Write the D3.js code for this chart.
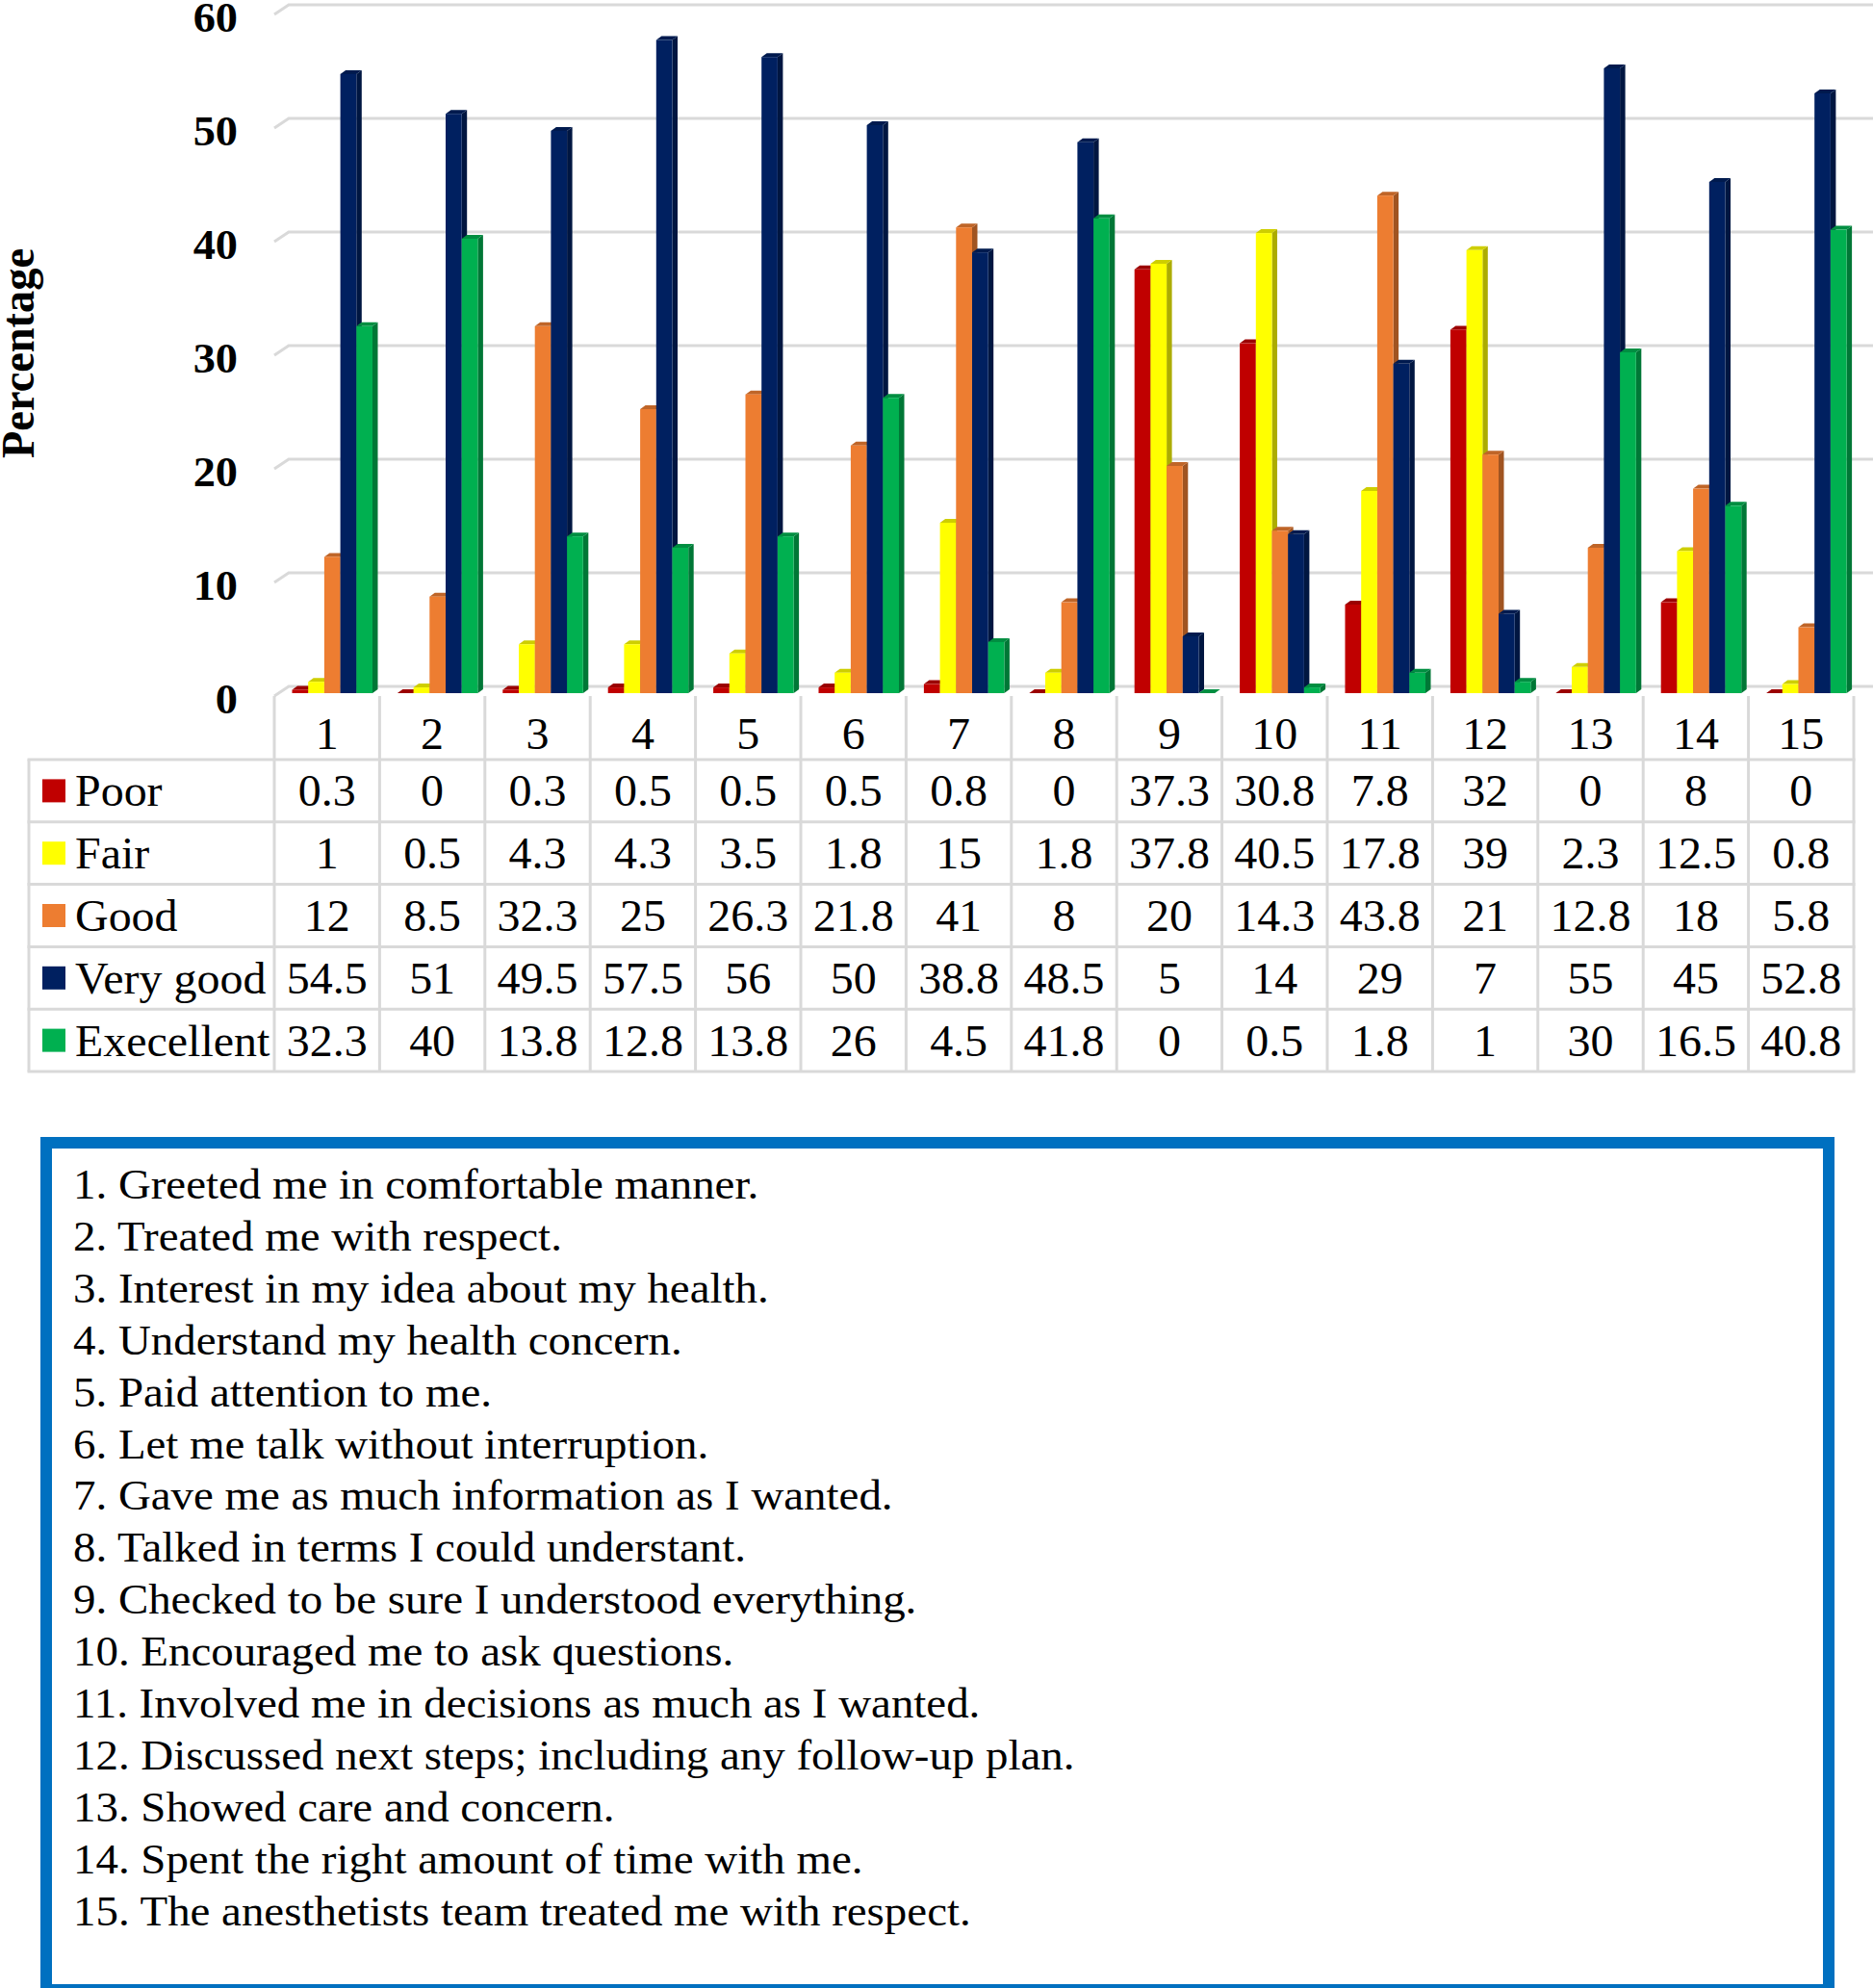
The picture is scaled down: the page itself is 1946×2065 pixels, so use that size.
<!DOCTYPE html>
<html>
<head>
<meta charset="utf-8">
<script src="https://cdn.jsdelivr.net/npm/d3@7"></script>
<style>
  html, body { margin: 0; padding: 0; background: #ffffff; }
  svg { display: block; }
  text { font-family: "Liberation Serif", "Times New Roman", serif; fill: #000; }
</style>
</head>
<body>
<svg id="chart" width="1946" height="2065"></svg>
<script>
// ---------- data ----------
const categories = ["1","2","3","4","5","6","7","8","9","10","11","12","13","14","15"];
const seriesNames = ["Poor", "Fair", "Good", "Very good", "Execellent"];
const poor      = [0.3, 0, 0.3, 0.5, 0.5, 0.5, 0.8, 0, 37.3, 30.8, 7.8, 32, 0, 8, 0];
const fair      = [1, 0.5, 4.3, 4.3, 3.5, 1.8, 15, 1.8, 37.8, 40.5, 17.8, 39, 2.3, 12.5, 0.8];
const good      = [12, 8.5, 32.3, 25, 26.3, 21.8, 41, 8, 20, 14.3, 43.8, 21, 12.8, 18, 5.8];
const veryGood  = [54.5, 51, 49.5, 57.5, 56, 50, 38.8, 48.5, 5, 14, 29, 7, 55, 45, 52.8];
const excellent = [32.3, 40, 13.8, 12.8, 13.8, 26, 4.5, 41.8, 0, 0.5, 1.8, 1, 30, 16.5, 40.8];
const yTicks = [0, 10, 20, 30, 40, 50, 60];
const itemTexts = [
  "1. Greeted me in comfortable manner.",
  "2. Treated me with respect.",
  "3. Interest in my idea about my health.",
  "4. Understand my health concern.",
  "5. Paid attention to me.",
  "6. Let me talk without interruption.",
  "7. Gave me as much information as I wanted.",
  "8. Talked in terms I could understant.",
  "9. Checked to be sure I understood everything.",
  "10. Encouraged me to ask questions.",
  "11. Involved me in decisions as much as I wanted.",
  "12. Discussed next steps; including any follow-up plan.",
  "13. Showed care and concern.",
  "14. Spent the right amount of time with me.",
  "15. The anesthetists team treated me with respect."
];
const seriesValues = [poor, fair, good, veryGood, excellent];
const colors = ["#c00000", "#ffff00", "#ed7d31", "#002060", "#00b050"];

// ---------- layout ----------
const svg = d3.select("#chart");
const plotLeft = 285, plotRight = 1926;
const depthX = 15;
const barDX = 5.5, barDY = -4;
const gridColor = "#d9d9d9";
const SX = 1.054;          // the original figure is slightly stretched horizontally
const FS = 44.5;           // list font size
const TFS = 45.5;          // table font size

const at = (x, y) => `translate(${x},${y}) scale(${SX},1)`;

const x0 = d3.scaleBand().domain(categories).range([plotLeft, plotRight]);
const x1 = d3.scaleBand().domain(seriesNames).range([18.5, 18.5 + 83.5]);
const y = d3.scaleLinear().domain([0, 60]).range([720, 12]);

// gridlines (back wall) with left diagonal
const grid = svg.append("g");
yTicks.forEach(t => {
  const yf = y(t) + 3, yb = y(t) - 7;
  grid.append("path")
    .attr("d", `M${plotLeft},${yf} L${plotLeft + depthX},${yb} L1946,${yb}`)
    .attr("fill", "none").attr("stroke", gridColor).attr("stroke-width", 3);
});

// y tick labels
svg.append("g").selectAll("text").data(yTicks).join("text")
  .attr("transform", d => at(247, y(d) + 6))
  .attr("text-anchor", "end").attr("dominant-baseline", "central")
  .style("font-size", "44px").style("font-weight", "bold")
  .text(d => d);

// y axis title
svg.append("text")
  .attr("transform", `translate(35,367) scale(${SX},1) rotate(-90)`)
  .attr("text-anchor", "middle")
  .style("font-size", "46.4px").style("font-weight", "bold")
  .text("Percentage");

// bars (3D)
const bars = svg.append("g");
categories.forEach((c, ci) => {
  seriesNames.forEach((s, si) => {
    const v = seriesValues[si][ci];
    const xl = x0(c) + x1(s), w = x1.bandwidth();
    const xr = xl + w, yt = y(v), yb = y(0);
    const base = d3.color(colors[si]);
    bars.append("path")
      .attr("d", `M${xr},${yb} L${xr + barDX},${yb + barDY} L${xr + barDX},${yt + barDY} L${xr},${yt} Z`)
      .attr("fill", base.darker(1.1));
    bars.append("path")
      .attr("d", `M${xl},${yt} L${xl + barDX},${yt + barDY} L${xr + barDX},${yt + barDY} L${xr},${yt} Z`)
      .attr("fill", base.darker(0.6));
    bars.append("rect")
      .attr("x", xl).attr("y", yt).attr("width", w).attr("height", Math.max(0, yb - yt))
      .attr("fill", colors[si]);
  });
});

// ---------- data table ----------
const table = svg.append("g");
const headerTop = 723, rowTop = 789, rowH = 64.8, legendLeft = 30;
const rowY = d3.range(seriesNames.length + 1).map(i => rowTop + i * rowH);
const tableBottom = rowY[rowY.length - 1];

d3.range(categories.length + 1).forEach(i => {
  const xx = plotLeft + i * x0.step();
  table.append("line").attr("x1", xx).attr("x2", xx)
    .attr("y1", headerTop).attr("y2", tableBottom)
    .attr("stroke", gridColor).attr("stroke-width", 3);
});
table.append("line").attr("x1", legendLeft).attr("x2", legendLeft)
  .attr("y1", rowTop).attr("y2", tableBottom)
  .attr("stroke", gridColor).attr("stroke-width", 3);
rowY.forEach(yy => {
  table.append("line").attr("x1", legendLeft - 1.5).attr("x2", plotRight + 1.5)
    .attr("y1", yy).attr("y2", yy)
    .attr("stroke", gridColor).attr("stroke-width", 3);
});

// header numbers
table.selectAll("text.hdr").data(categories).join("text")
  .attr("class", "hdr")
  .attr("transform", d => at(x0(d) + x0.step() / 2, 778))
  .attr("text-anchor", "middle").style("font-size", TFS + "px")
  .text(d => d);

// legend cells and values
seriesNames.forEach((s, si) => {
  const cy = rowY[si] + rowH / 2;
  table.append("rect").attr("x", 44).attr("y", cy - 12).attr("width", 24).attr("height", 24)
    .attr("fill", colors[si]);
  table.append("text").attr("transform", at(78, cy + 16))
    .style("font-size", TFS + "px").text(s);
  categories.forEach((c, ci) => {
    table.append("text")
      .attr("transform", at(x0(c) + x0.step() / 2, cy + 16))
      .attr("text-anchor", "middle").style("font-size", TFS + "px")
      .text(seriesValues[si][ci]);
  });
});

// ---------- item list box ----------
const box = svg.append("g");
box.append("rect")
  .attr("x", 48).attr("y", 1187).attr("width", 1852).attr("height", 880)
  .attr("fill", "none").attr("stroke", "#0070c0").attr("stroke-width", 12);
box.selectAll("text").data(itemTexts).join("text")
  .attr("transform", (d, i) => at(76, 1245 + i * 53.9))
  .style("font-size", FS + "px")
  .text(d => d);
</script>
</body>
</html>
